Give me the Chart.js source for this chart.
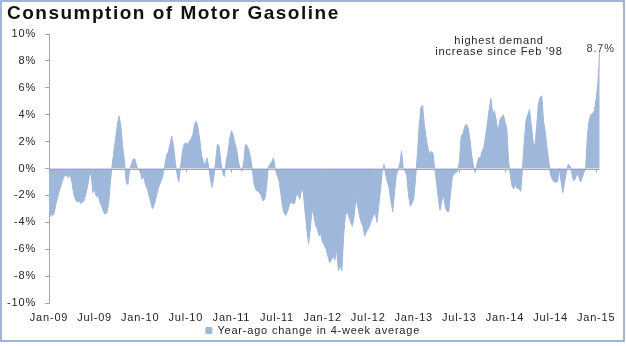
<!DOCTYPE html>
<html>
<head>
<meta charset="utf-8">
<script src="https://cdn.jsdelivr.net/npm/chart.js@4.4.1/dist/chart.umd.min.js"></script>
<style>
    html, body { margin: 0; padding: 0; background: #fff; }
    #wrap { width: 626px; height: 346px; }
</style>
</head>
<body>
<div id="wrap"><canvas id="gasChart" width="626" height="346"></canvas></div>
<script>
// Year-ago change in 4-week average (%), weekly, one array per half-year
const h1_2009 = [-3.8, -3.4, -3.5, -3.3, -2.6, -2.1, -1.6, -1.2, -0.8, -0.5, -0.5, -0.7, -0.4, -1.0, -1.8, -2.3, -2.5, -2.4, -2.6, -2.5, -2.4, -1.9, -1.3, -0.6, -0.3, -1.8];
const h2_2009 = [-1.6, -2.1, -2.0, -2.5, -2.8, -3.2, -3.4, -3.3, -2.6, -1.0, 0.2, 1.3, 2.3, 3.3, 3.9, 3.1, 1.6, 0.6, -1.0, -1.2, 0.0, 0.3, 0.7, 0.7, 0.2, -0.1];
const h1_2010 = [-0.2, -0.8, -0.6, -1.2, -1.5, -2.0, -2.5, -3.0, -2.7, -2.2, -1.6, -1.2, -0.9, -0.5, 0.2, 1.0, 1.2, 1.8, 2.4, 1.7, 0.5, -0.4, -1.0, 0.1, 1.2, 1.8];
const h2_2010 = [1.9, 1.8, 2.0, 2.2, 2.5, 3.3, 3.5, 3.0, 2.1, 1.0, 0.5, 0.2, 0.8, 0.2, -0.8, -1.4, -0.6, 0.5, 1.8, 1.7, 0.5, -0.3, -0.6, 0.5, 1.2, 2.2];
const h1_2011 = [2.8, 2.5, 1.9, 1.4, 0.5, 0.0, -0.2, 0.4, 1.8, 1.7, 1.3, 0.8, -0.2, -1.2, -1.6, -1.7, -1.8, -2.0, -2.4, -2.3, -1.5, 0.1, 0.3, 0.5, 0.8, 0.0];
const h2_2011 = [-0.5, -0.8, -1.7, -2.7, -3.3, -3.5, -3.2, -2.7, -2.5, -2.6, -2.6, -2.0, -1.9, -2.3, -1.5, -1.8, -3.2, -4.5, -5.6, -4.5, -3.0, -3.5, -4.2, -4.5, -5.0, -4.9];
const h1_2012 = [-5.5, -5.7, -6.0, -6.5, -7.0, -6.8, -6.5, -6.8, -6.0, -7.6, -7.2, -7.6, -5.0, -3.5, -3.2, -3.6, -4.0, -4.3, -3.5, -2.2, -2.8, -3.5, -4.0, -4.3, -5.0, -4.7];
const h2_2012 = [-4.5, -4.2, -3.8, -3.5, -3.3, -4.0, -2.8, -1.6, -0.3, 0.3, -0.5, -1.0, -1.5, -2.5, -3.2, -1.8, -0.5, -0.1, 0.3, 1.3, 0.0, -0.2, -0.5, -2.0, -2.8, -2.6];
const h1_2013 = [-2.2, -0.8, 1.0, 3.0, 4.5, 4.7, 3.3, 2.3, 1.6, 1.0, 1.3, 1.1, -0.1, -1.0, -2.3, -3.1, -2.4, -2.0, -2.9, -3.2, -3.2, -1.8, -0.6, -0.4, -0.3, -0.2];
const h2_2013 = [0.5, 2.4, 2.6, 3.1, 3.3, 3.0, 2.2, 1.0, 0.2, -0.3, 0.3, 0.8, 0.8, 1.3, 1.6, 2.5, 3.4, 4.4, 5.2, 4.0, 4.3, 3.6, 2.6, 3.6, 3.8, 4.0];
const h1_2014 = [3.5, 3.0, 0.6, -0.5, -1.3, -1.5, -1.2, -1.5, -1.5, -1.7, 0.0, 2.0, 3.6, 4.0, 4.4, 3.2, 2.0, 1.6, 3.0, 4.8, 5.3, 5.4, 3.5, 2.7, 1.5, 0.5];
const h2_2014 = [-0.5, -0.8, -1.0, -1.0, -1.0, 0.0, -1.0, -1.8, -1.0, -0.3, 0.3, 0.2, -0.3, -0.9, -0.8, -0.4, -0.6, -1.0, -0.7, -0.3, 0.0, 2.5, 3.6, 4.0, 4.1, 4.3];
const h1_2015 = [5.2, 6.4, 8.7];

const tickLabels = ['Jan-09', 'Jul-09', 'Jan-10', 'Jul-10', 'Jan-11', 'Jul-11', 'Jan-12',
                    'Jul-12', 'Jan-13', 'Jul-13', 'Jan-14', 'Jul-14', 'Jan-15'];
const weeksPerHalf = 26;

const values = [].concat(h1_2009, h2_2009, h1_2010, h2_2010, h1_2011, h2_2011, h1_2012,
                         h2_2012, h1_2013, h2_2013, h1_2014, h2_2014, h1_2015);
const points = values.map((v, i) => ({ x: i, y: v }));

const FONT = "'Liberation Sans', Arial, sans-serif";
const AXIS_GRAY = '#a6a6a6';
const FILL_BLUE = '#9fb7db';

// the source picture is set a little wide, so all text gets some tracking
// (canvas resets its state on resize, so set it before layout and draw)
const tracking = {
    id: 'tracking',
    beforeLayout(chart) { chart.ctx.letterSpacing = '0.8px'; },
    beforeDraw(chart) { chart.ctx.letterSpacing = '0.8px'; }
};

// frame, title, zero line with ticks, notes
const decorations = {
    id: 'decorations',
    beforeDraw(chart) {
        const ctx = chart.ctx;
        ctx.save();
        ctx.strokeStyle = '#7f9fc6';
        ctx.lineWidth = 1.5;
        ctx.strokeRect(1, 1, 623, 340);
        ctx.restore();
    },
    afterDatasetsDraw(chart) {
        const ctx = chart.ctx;
        const xs = chart.scales.x;
        const ys = chart.scales.y;
        const y0 = Math.round(ys.getPixelForValue(0)) + 0.5;

        ctx.save();
        ctx.strokeStyle = AXIS_GRAY;
        ctx.lineWidth = 1;
        ctx.beginPath();
        ctx.moveTo(chart.chartArea.left, y0);
        ctx.lineTo(xs.getPixelForValue(values.length - 1), y0);
        tickLabels.forEach((l, i) => {
            const px = Math.round(xs.getPixelForValue(i * weeksPerHalf)) + 0.5;
            ctx.moveTo(px, y0);
            ctx.lineTo(px, y0 + 3);
        });
        ctx.stroke();

        // title
        ctx.fillStyle = '#111';
        ctx.font = 'bold 19px ' + FONT;
        ctx.letterSpacing = '1.5px';
        ctx.textAlign = 'left';
        ctx.textBaseline = 'alphabetic';
        ctx.fillText('Consumption of Motor Gasoline', 7, 19);

        // notes
        ctx.fillStyle = '#262626';
        ctx.font = '11px ' + FONT;
        ctx.letterSpacing = '0.8px';
        ctx.textAlign = 'center';
        ctx.textBaseline = 'middle';
        ctx.fillText('highest demand', 499, 41);
        ctx.fillText("increase since Feb '98", 499, 52);

        const last = values.length - 1;
        ctx.fillStyle = '#404040';
        ctx.fillText(values[last].toFixed(1) + '%', xs.getPixelForValue(last) + 1,
                     ys.getPixelForValue(values[last]) - 3);
        ctx.restore();
    }
};

new Chart(document.getElementById('gasChart'), {
    type: 'line',
    data: {
        datasets: [{
            label: 'Year-ago change in 4-week average',
            data: points,
            backgroundColor: FILL_BLUE,
            borderColor: FILL_BLUE,
            borderWidth: 1,
            pointRadius: 0,
            fill: 'origin',
            tension: 0
        }]
    },
    options: {
        responsive: false,
        animation: false,
        layout: { padding: { top: 34, right: 0, bottom: 0, left: 0 } },
        plugins: {
            legend: {
                position: 'bottom',
                labels: {
                    boxWidth: 6,
                    boxHeight: 6,
                    padding: 1,
                    color: '#262626',
                    font: { family: FONT, size: 11 }
                }
            },
            tooltip: { enabled: false }
        },
        scales: {
            x: {
                type: 'linear',
                min: 0,
                max: 329,
                grid: { display: false, drawTicks: false },
                border: { display: false },
                afterBuildTicks: scale => {
                    scale.ticks = tickLabels.map((l, i) => ({ value: i * weeksPerHalf }));
                },
                afterFit: scale => { scale.height = 21; },
                ticks: {
                    autoSkip: false,
                    maxRotation: 0,
                    padding: 8,
                    color: '#262626',
                    font: { family: FONT, size: 11 },
                    callback: (value, index) => tickLabels[index]
                }
            },
            y: {
                min: -10,
                max: 10,
                afterFit: scale => { scale.width = 49; },
                border: { display: true, color: AXIS_GRAY },
                grid: { drawOnChartArea: false, drawTicks: true, tickLength: 4, color: AXIS_GRAY },
                ticks: {
                    stepSize: 2,
                    padding: 9,
                    color: '#262626',
                    font: { family: FONT, size: 11 },
                    callback: value => value + '%'
                }
            }
        }
    },
    plugins: [tracking, decorations]
});
</script>
</body>
</html>
